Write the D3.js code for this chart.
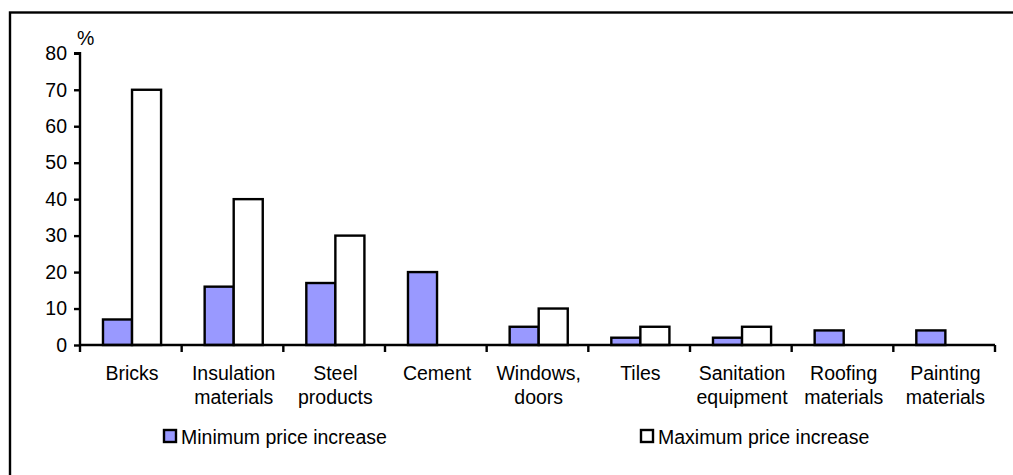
<!DOCTYPE html>
<html>
<head>
<meta charset="utf-8">
<script src="https://cdn.jsdelivr.net/npm/d3@7"></script>
<style>
  html, body { margin: 0; padding: 0; background: #fff; overflow: hidden; }
  svg { display: block; font-family: "Liberation Sans", Arial, sans-serif; }
</style>
</head>
<body>
<svg id="chart" width="1013" height="475"></svg>
<script>
// Building material price increases, in percent
const categories = [
  ["Bricks"],
  ["Insulation", "materials"],
  ["Steel", "products"],
  ["Cement"],
  ["Windows,", "doors"],
  ["Tiles"],
  ["Sanitation", "equipment"],
  ["Roofing", "materials"],
  ["Painting", "materials"]
];
const minIncrease = [7, 16, 17, 20, 5, 2, 2, 4, 4];
const maxIncrease = [70, 40, 30, 0, 10, 5, 5, 0, 0];
const yTicks = [0, 10, 20, 30, 40, 50, 60, 70, 80];
const seriesNames = ["Minimum price increase", "Maximum price increase"];
const seriesColors = ["#9999ff", "#ffffff"];

const svg = d3.select("#chart");
const fontSize = 19.5;
const lineW = 2.4;

// outer frame (only top and left edges fall inside the view)
svg.append("rect")
  .attr("x", 10).attr("y", 12.5)
  .attr("width", 1200).attr("height", 800)
  .attr("fill", "none").attr("stroke", "#000").attr("stroke-width", 2.4);

const plot = { left: 80, right: 995, top: 53.3, bottom: 345 };

const x = d3.scaleBand()
  .domain(d3.range(categories.length))
  .range([plot.left, plot.right])
  .paddingInner(0).paddingOuter(0);

const y = d3.scaleLinear().domain([0, 80]).range([plot.bottom, plot.top]);

// bars: two series within each band, gap width 150%
const bw = x.bandwidth() / 3.5;
const gap = bw * 0.75 + 1.2;
const series = [minIncrease, maxIncrease];

series.forEach((vals, si) => {
  svg.append("g").selectAll("rect")
    .data(vals.map((v, i) => ({ v, i })).filter(d => d.v > 0))
    .join("rect")
    .attr("x", d => x(d.i) + gap + si * bw)
    .attr("y", d => y(d.v))
    .attr("width", bw)
    .attr("height", d => y(0) - y(d.v))
    .attr("fill", seriesColors[si])
    .attr("stroke", "#000")
    .attr("stroke-width", lineW);
});

// y axis
const yAxis = d3.axisLeft(y).tickValues(yTicks).tickSize(6).tickPadding(7).tickFormat(d3.format("d"));
const gy = svg.append("g").attr("transform", `translate(${plot.left},0)`).call(yAxis);
gy.select(".domain").attr("stroke-width", lineW).attr("d", `M-6,${plot.top}H0V${plot.bottom}`);
gy.selectAll(".tick line").attr("stroke-width", lineW);
gy.selectAll(".tick text")
  .attr("font-size", fontSize)
  .attr("font-family", "Liberation Sans, Arial, sans-serif")
  .attr("fill", "#000");

// unit label
svg.append("text")
  .attr("x", 77).attr("y", 45)
  .attr("font-size", fontSize)
  .text("%");

// x axis with ticks between categories
const xEdges = d3.range(categories.length + 1).map(i =>
  i < categories.length ? x(i) : plot.right);
const gx = svg.append("g");
gx.append("line")
  .attr("x1", plot.left).attr("x2", plot.right)
  .attr("y1", plot.bottom).attr("y2", plot.bottom)
  .attr("stroke", "#000").attr("stroke-width", lineW);
gx.selectAll("line.tick")
  .data(xEdges)
  .join("line")
  .attr("class", "tick")
  .attr("x1", d => d).attr("x2", d => d)
  .attr("y1", plot.bottom).attr("y2", plot.bottom + 7)
  .attr("stroke", "#000").attr("stroke-width", lineW);

// category labels
const labels = svg.append("g").selectAll("text")
  .data(categories)
  .join("text")
  .attr("text-anchor", "middle")
  .attr("font-size", fontSize)
  .attr("x", (d, i) => x(i) + gap + bw)
  .attr("y", 380);
labels.selectAll("tspan")
  .data(d => d)
  .join("tspan")
  .attr("x", function () { return d3.select(this.parentNode).attr("x"); })
  .attr("dy", (d, j) => j === 0 ? 0 : 24)
  .text(d => d);

// legend
const legendX = [164, 641];
const legend = svg.append("g").selectAll("g")
  .data(seriesNames)
  .join("g")
  .attr("transform", (d, i) => `translate(${legendX[i]},430)`);
legend.append("rect")
  .attr("width", 12).attr("height", 12)
  .attr("fill", (d, i) => seriesColors[i])
  .attr("stroke", "#000").attr("stroke-width", lineW);
legend.append("text")
  .attr("x", 17).attr("y", 13.5)
  .attr("font-size", fontSize)
  .text(d => d);
</script>
</body>
</html>
